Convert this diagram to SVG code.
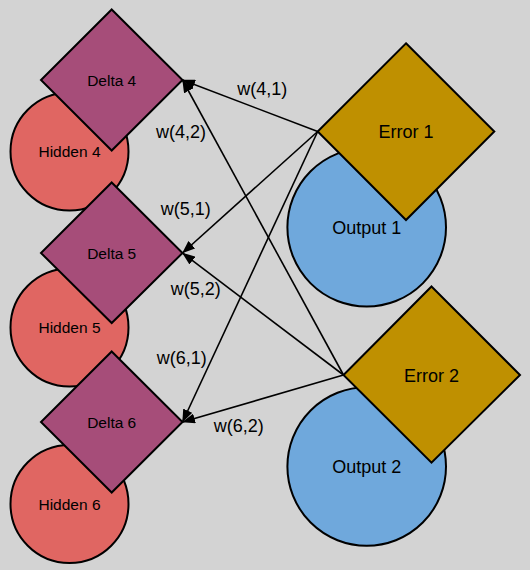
<svg xmlns="http://www.w3.org/2000/svg" width="530" height="570" viewBox="0 0 530 570">
<defs>
<marker id="arr" markerWidth="13" markerHeight="10" refX="12.5" refY="5" orient="auto" markerUnits="userSpaceOnUse">
<path d="M0,0 L13,5 L0,10 z" fill="#000"/>
</marker>
<style>
text{font-family:"Liberation Sans",Arial,sans-serif;fill:#000;text-anchor:middle}
.hid{fill:#e06662;stroke:#000;stroke-width:2}
.dlt{fill:#a64d79;stroke:#000;stroke-width:2}
.out{fill:#6fa8dc;stroke:#000;stroke-width:2}
.err{fill:#bf9000;stroke:#000;stroke-width:2}
.sm{font-size:15.5px}
.lg{font-size:18px}
.edge{stroke:#000;stroke-width:1.6;fill:none;marker-end:url(#arr)}
</style>
</defs>
<rect width="530" height="570" fill="#d3d3d3"/>
<g id="hidden4"><circle class="hid" cx="69.5" cy="151.5" r="59"/><text class="sm" x="69.5" y="157">Hidden 4</text></g>
<g id="hidden5"><circle class="hid" cx="69.5" cy="327.5" r="59"/><text class="sm" x="69.5" y="333">Hidden 5</text></g>
<g id="hidden6"><circle class="hid" cx="69.5" cy="504" r="59"/><text class="sm" x="69.5" y="509.5">Hidden 6</text></g>
<g id="delta4"><polygon class="dlt" points="111.7,9.5 182.5,80 111.7,150.5 41,80"/><text class="sm" x="111.7" y="85.5">Delta 4</text></g>
<g id="delta5"><polygon class="dlt" points="111.7,182.5 182.5,253 111.7,323 41,253"/><text class="sm" x="111.7" y="258.5">Delta 5</text></g>
<g id="delta6"><polygon class="dlt" points="111.7,351.5 182.5,422 111.7,492.5 41,422"/><text class="sm" x="111.7" y="427.5">Delta 6</text></g>
<g id="output1"><circle class="out" cx="366.7" cy="227.3" r="79.3"/><text class="lg" x="366.7" y="233.5">Output 1</text></g>
<g id="output2"><circle class="out" cx="366.7" cy="466.5" r="79.3"/><text class="lg" x="366.7" y="472.5">Output 2</text></g>
<g id="error1"><polygon class="err" points="406,43.3 494.3,131.5 406,220 317.7,131.5"/><text class="lg" x="406" y="138">Error 1</text></g>
<g id="error2"><polygon class="err" points="431.5,286.5 520,375 431.5,462.7 343.5,375"/><text class="lg" x="431.5" y="381.5">Error 2</text></g>
<g id="connectors">
<line class="edge" x1="317.7" y1="131.5" x2="182.5" y2="80"/>
<line class="edge" x1="317.7" y1="131.5" x2="182.5" y2="253"/>
<line class="edge" x1="317.7" y1="131.5" x2="182.5" y2="422"/>
<line class="edge" x1="343.5" y1="375" x2="182.5" y2="80"/>
<line class="edge" x1="343.5" y1="375" x2="182.5" y2="253"/>
<line class="edge" x1="343.5" y1="375" x2="182.5" y2="422"/>
<text class="lg" x="262.3" y="95">w(4,1)</text>
<text class="lg" x="181" y="138.3">w(4,2)</text>
<text class="lg" x="185.8" y="215">w(5,1)</text>
<text class="lg" x="195.8" y="295">w(5,2)</text>
<text class="lg" x="181.7" y="364.3">w(6,1)</text>
<text class="lg" x="238.8" y="432.3">w(6,2)</text>
</g>
</svg>
